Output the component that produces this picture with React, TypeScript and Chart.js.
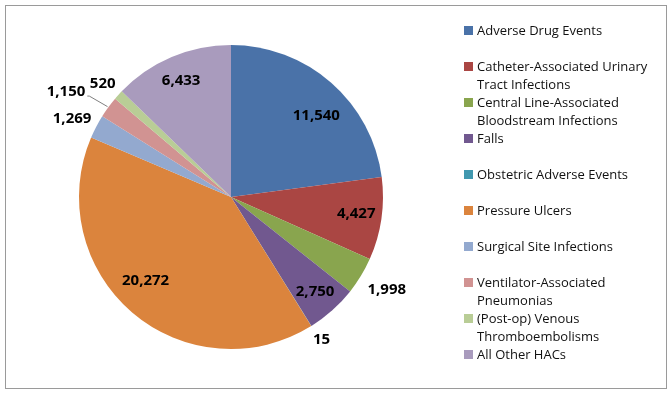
import React, { useEffect, useRef } from "react";
import { Chart, registerables } from "chart.js";

Chart.register(...registerables);

const categories: string[][] = [
  ["Adverse Drug Events"],
  ["Catheter-Associated Urinary", "Tract Infections"],
  ["Central Line-Associated", "Bloodstream Infections"],
  ["Falls"],
  ["Obstetric Adverse Events"],
  ["Pressure Ulcers"],
  ["Surgical Site Infections"],
  ["Ventilator-Associated", "Pneumonias"],
  ["(Post-op) Venous", "Thromboembolisms"],
  ["All Other HACs"],
];

const values: number[] = [11540, 4427, 1998, 2750, 15, 20272, 1269, 1150, 520, 6433];

const colors: string[] = [
  "#4A72A8",
  "#AA4643",
  "#89A54E",
  "#71588F",
  "#4198AF",
  "#DB843D",
  "#93A9CF",
  "#D19392",
  "#B9CD96",
  "#A99BBD",
];

// label placement style: radius factor and angle offset (degrees) relative to slice middle
const labelRadius: number[] = [0.78, 0.83, 1.19, 0.83, 1.105, 0.78, 1.17, 1.29, 1.13, 0.84];
const labelAngleShift: number[] = [4.8, -1.1, -0.7, 0, -0.7, 5.5, -0.9, -3.5, -0.5, 0];
const labelLeader: boolean[] = [false, false, false, false, false, false, false, true, false, false];

const fmt = (v: number) => v.toLocaleString("en-US");

const framePlugin = {
  id: "frame",
  beforeDraw(chart: any) {
    const ctx = chart.ctx;
    ctx.save();
    ctx.fillStyle = "#ffffff";
    ctx.fillRect(0, 0, chart.width, chart.height);
    ctx.strokeStyle = "#9a9a9a";
    ctx.lineWidth = 1;
    ctx.strokeRect(5.5, 5.5, 661, 383);
    ctx.restore();
  },
};

const labelPlugin = {
  id: "sliceLabels",
  afterDatasetsDraw(chart: any) {
    const ctx = chart.ctx;
    const meta = chart.getDatasetMeta(0);
    ctx.save();
    ctx.font = "bold 15px 'Open Sans'";
    ctx.fillStyle = "#000000";
    ctx.textAlign = "center";
    ctx.textBaseline = "alphabetic";
    meta.data.forEach((arc: any, i: number) => {
      const { x, y, startAngle, endAngle, outerRadius } = arc.getProps(
        ["x", "y", "startAngle", "endAngle", "outerRadius"],
        true
      );
      const mid = (startAngle + endAngle) / 2;
      const a = mid + (labelAngleShift[i] * Math.PI) / 180;
      const r = outerRadius * labelRadius[i];
      const lx = x + Math.cos(a) * r;
      const ly = y + Math.sin(a) * r;
      const text = fmt(values[i]);
      if (labelLeader[i]) {
        const w = ctx.measureText(text).width;
        ctx.save();
        ctx.strokeStyle = "#808080";
        ctx.lineWidth = 1;
        ctx.beginPath();
        ctx.moveTo(lx + w / 2 + 2, ly + 5);
        ctx.lineTo(lx + w / 2 + 4, ly + 5);
        ctx.lineTo(x + Math.cos(mid) * (outerRadius + 1), y + Math.sin(mid) * (outerRadius + 1));
        ctx.stroke();
        ctx.restore();
      }
      ctx.fillText(text, lx, ly + 5.4);
    });
    ctx.restore();
  },
};

const legendPlugin = {
  id: "customLegend",
  afterDraw(chart: any) {
    const ctx = chart.ctx;
    ctx.save();
    ctx.font = "13px 'Open Sans'";
    ctx.textAlign = "left";
    ctx.textBaseline = "alphabetic";
    categories.forEach((lines, i) => {
      const base = 35 + i * 36;
      ctx.fillStyle = colors[i];
      ctx.fillRect(464, base - 9, 9, 9);
      ctx.fillStyle = "#111111";
      lines.forEach((line, j) => {
        ctx.fillText(line, 477, base + j * 18);
      });
    });
    ctx.restore();
  },
};

export default function App() {
  const ref = useRef<HTMLCanvasElement | null>(null);
  useEffect(() => {
    document.body.style.margin = "0";
    if (!ref.current) return;
    const chart = new Chart(ref.current, {
      type: "pie",
      data: {
        labels: categories.map((l) => l.join(" ")),
        datasets: [
          {
            data: values,
            backgroundColor: colors,
            borderWidth: 0,
          },
        ],
      },
      options: {
        responsive: false,
        animation: false,
        devicePixelRatio: 1,
        layout: { padding: { left: 79, right: 287, top: 45, bottom: 45 } },
        plugins: {
          legend: { display: false },
          tooltip: { enabled: false },
        },
      },
      plugins: [framePlugin, labelPlugin, legendPlugin],
    });
    return () => chart.destroy();
  }, []);
  return (
    <div style={{ width: 670, height: 394 }}>
      <canvas ref={ref} width={670} height={394} style={{ display: "block" }} />
    </div>
  );
}
